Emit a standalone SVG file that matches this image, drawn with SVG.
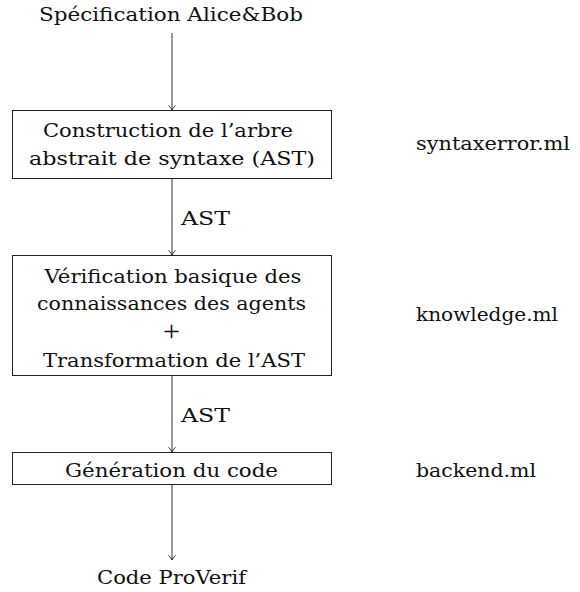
<svg xmlns="http://www.w3.org/2000/svg" width="580" height="592" viewBox="0 0 580 592">
  <style>
    text { font-family: "DejaVu Serif", "Liberation Serif", serif; font-size: 18px; fill: #111; }
    .c { text-anchor: middle; }
    .plus { font-family: "Liberation Serif", serif; font-size: 30px; }
    .box { fill: #fff; stroke: #222; stroke-width: 1; }
    .edge { fill: none; stroke: #333; stroke-width: 1; marker-end: url(#to); }
  </style>
  <defs>
    <!-- open "to" style arrow tip -->
    <marker id="to" markerUnits="userSpaceOnUse" markerWidth="10" markerHeight="10" refX="0" refY="0" viewBox="-6 -5 8 10" orient="auto" overflow="visible">
      <path d="M -4.5 -3.2 Q -1.5 -0.6 0 0 Q -1.5 0.6 -4.5 3.2" fill="none" stroke="#222" stroke-width="0.9" stroke-linecap="round"/>
    </marker>
  </defs>

  <g id="connectors">
    <path class="edge" d="M 172 33 L 172 110"/>
    <path class="edge" d="M 172 178 L 172 255"/>
    <path class="edge" d="M 172 375 L 172 452"/>
    <path class="edge" d="M 172 485 L 172 560"/>
    <text x="181" y="225" textLength="49" lengthAdjust="spacingAndGlyphs">AST</text>
    <text x="181" y="422" textLength="49" lengthAdjust="spacingAndGlyphs">AST</text>
  </g>

  <g id="spec">
    <text class="c" x="171" y="21" textLength="264" lengthAdjust="spacingAndGlyphs">Spécification Alice&amp;Bob</text>
  </g>

  <g id="ast-construction">
    <rect class="box" x="12.5" y="110.5" width="319" height="68"/>
    <text class="c" x="168" y="137" textLength="250" lengthAdjust="spacingAndGlyphs">Construction de l’arbre</text>
    <text class="c" x="172" y="165" textLength="286" lengthAdjust="spacingAndGlyphs">abstrait de syntaxe (AST)</text>
  </g>

  <g id="knowledge-check">
    <rect class="box" x="12.5" y="255.5" width="319" height="120"/>
    <text class="c" x="173" y="283" textLength="257" lengthAdjust="spacingAndGlyphs">Vérification basique des</text>
    <text class="c" x="171.5" y="310" textLength="269" lengthAdjust="spacingAndGlyphs">connaissances des agents</text>
    <text class="c plus" x="171.5" y="340.5">+</text>
    <text class="c" x="174" y="366.5" textLength="262" lengthAdjust="spacingAndGlyphs">Transformation de l’AST</text>
  </g>

  <g id="codegen">
    <rect class="box" x="12.5" y="452.5" width="319" height="32"/>
    <text class="c" x="171.5" y="476.5" textLength="213" lengthAdjust="spacingAndGlyphs">Génération du code</text>
  </g>

  <g id="proverif">
    <text class="c" x="171.5" y="584" textLength="149" lengthAdjust="spacingAndGlyphs">Code ProVerif</text>
  </g>

  <g id="files">
    <text x="416" y="150" textLength="154" lengthAdjust="spacingAndGlyphs">syntaxerror.ml</text>
    <text x="416" y="321" textLength="142" lengthAdjust="spacingAndGlyphs">knowledge.ml</text>
    <text x="416" y="477" textLength="120" lengthAdjust="spacingAndGlyphs">backend.ml</text>
  </g>
</svg>
